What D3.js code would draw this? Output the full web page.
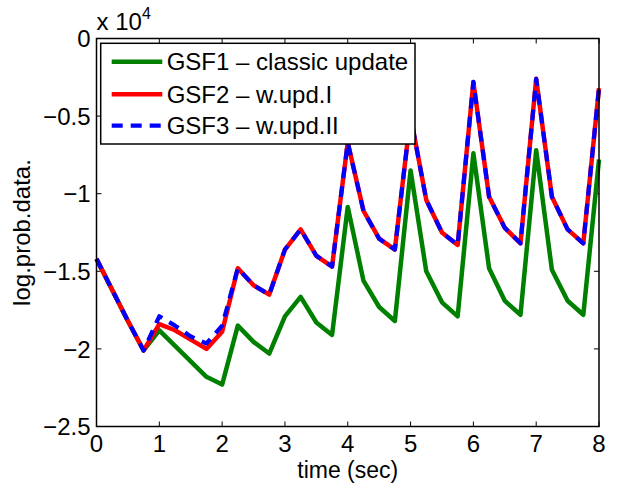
<!DOCTYPE html>
<html>
<head>
<meta charset="utf-8">
<script src="https://cdn.jsdelivr.net/npm/d3@7"></script>
<style>
  body { margin: 0; background: #fff; }
  text { font-family: "Liberation Sans", Arial, sans-serif; fill: #000; }
</style>
</head>
<body>
<div id="chart"></div>
<script>
// time axis (sec), one sample every quarter second
const time = [0, 0.25, 0.5, 0.75, 1, 1.25, 1.5, 1.75, 2, 2.25, 2.5, 2.75, 3, 3.25, 3.5, 3.75,
  4, 4.25, 4.5, 4.75, 5, 5.25, 5.5, 5.75, 6, 6.25, 6.5, 6.75, 7, 7.25, 7.5, 7.75, 8];

// log probability of the data
const gsf1 = [-14200, -16200, -18200, -20100, -18800, -19800, -20800, -21800, -22300, -18500,
  -19550, -20300, -17900, -16650, -18300, -19100, -10850, -15600, -17300, -18200,
  -8500, -15000, -17000, -17900, -7400, -14800, -16900, -17800, -7200, -14900,
  -16900, -17800, -7800];
const gsf2 = [-14200, -16200, -18200, -20100, -18400, -18800, -19400, -20000, -18900, -14800,
  -15900, -16500, -13600, -12300, -14000, -14700, -6700, -11100, -12900, -13600,
  -5000, -10400, -12500, -13300, -2800, -10200, -12200, -13200, -2600, -10200,
  -12300, -13200, -3200];
const gsf3 = [-14200, -16200, -18200, -20100, -17900, -18500, -19200, -19650, -18500, -14800,
  -15900, -16500, -13600, -12300, -14000, -14700, -6700, -11100, -12900, -13600,
  -5000, -10400, -12500, -13300, -2800, -10200, -12200, -13200, -2600, -10200,
  -12300, -13200, -3200];

const xTicks = [0, 1, 2, 3, 4, 5, 6, 7, 8];
const yTicks = [0, -5000, -10000, -15000, -20000, -25000];
const legendLabels = ["GSF1 \u2013 classic update", "GSF2 \u2013 w.upd.I", "GSF3 \u2013 w.upd.II"];

const W = 618, H = 487;
const margin = { left: 96.5, top: 38.5, right: 19, bottom: 60.5 };
const iw = W - margin.left - margin.right;
const ih = H - margin.top - margin.bottom;
const fs = 24;

const svg = d3.select("#chart").append("svg")
  .attr("width", W)
  .attr("height", H);

const x = d3.scaleLinear().domain([0, 8]).range([0, iw]);
const y = d3.scaleLinear().domain([-25000, 0]).range([ih, 0]);

const g = svg.append("g").attr("transform", `translate(${margin.left},${margin.top})`);

const fmt = v => {
  const s = String(+(v / 1e4).toFixed(1));
  return s.replace("-", "\u2212");
};

// ticks pointing inward on all four sides
const tickLen = 5;
const axes = g.append("g").attr("stroke", "#000").attr("stroke-width", 1);
xTicks.forEach(t => {
  axes.append("line").attr("x1", x(t)).attr("x2", x(t)).attr("y1", ih).attr("y2", ih - tickLen);
  axes.append("line").attr("x1", x(t)).attr("x2", x(t)).attr("y1", 0).attr("y2", tickLen);
});
yTicks.forEach(t => {
  axes.append("line").attr("x1", 0).attr("x2", tickLen).attr("y1", y(t)).attr("y2", y(t));
  axes.append("line").attr("x1", iw).attr("x2", iw - tickLen).attr("y1", y(t)).attr("y2", y(t));
});

g.selectAll(".xt").data(xTicks).enter().append("text")
  .attr("x", d => x(d))
  .attr("y", ih + 25.5)
  .attr("text-anchor", "middle")
  .attr("font-size", fs)
  .text(d => d);

g.selectAll(".yt").data(yTicks).enter().append("text")
  .attr("x", -6)
  .attr("y", d => y(d))
  .attr("dy", "0.36em")
  .attr("text-anchor", "end")
  .attr("font-size", fs)
  .text(fmt);

// exponent label
const ex = svg.append("text").attr("x", margin.left).attr("y", 30).attr("font-size", fs);
ex.append("tspan").text("x 10");
ex.append("tspan").attr("font-size", 16).attr("dy", -11).text("4");

svg.append("text")
  .attr("x", margin.left + iw / 2)
  .attr("y", 478)
  .attr("text-anchor", "middle")
  .attr("font-size", 23)
  .text("time (sec)");

svg.append("text")
  .attr("transform", `translate(30,${margin.top + ih / 2}) rotate(-90)`)
  .attr("text-anchor", "middle")
  .attr("font-size", fs)
  .text("log.prob.data.");

// legend box
const lg = svg.append("g");
lg.append("rect")
  .attr("x", 100.7).attr("y", 43.3)
  .attr("width", 314.3).attr("height", 100.7)
  .attr("fill", "#fff").attr("stroke", "#000").attr("stroke-width", 1.5);

const series = [
  { values: gsf1, color: "#008000", dash: null, width: 4.5 },
  { values: gsf2, color: "#ff0000", dash: null, width: 4.5 },
  { values: gsf3, color: "#0000ff", dash: "11,8", width: 4.2 }
];

const rowY = [61.7, 94.3, 125.7];
series.forEach((s, i) => {
  lg.append("line")
    .attr("x1", 111.7).attr("x2", 162.3)
    .attr("y1", rowY[i]).attr("y2", rowY[i])
    .attr("stroke", s.color)
    .attr("stroke-width", s.width)
    .attr("stroke-dasharray", s.dash);
  lg.append("text")
    .attr("x", 166.7).attr("y", rowY[i])
    .attr("dy", "0.36em")
    .attr("font-size", fs)
    .text(legendLabels[i]);
});

const line = d3.line()
  .x((d, i) => x(time[i]))
  .y(d => y(d));

series.forEach(s => {
  g.append("path")
    .datum(s.values)
    .attr("d", line)
    .attr("fill", "none")
    .attr("stroke", s.color)
    .attr("stroke-width", s.width)
    .attr("stroke-linejoin", "round")
    .attr("stroke-dasharray", s.dash);
});

// axes box on top
g.append("rect")
  .attr("x", 0).attr("y", 0)
  .attr("width", iw).attr("height", ih)
  .attr("fill", "none").attr("stroke", "#000").attr("stroke-width", 1.5);
</script>
</body>
</html>
